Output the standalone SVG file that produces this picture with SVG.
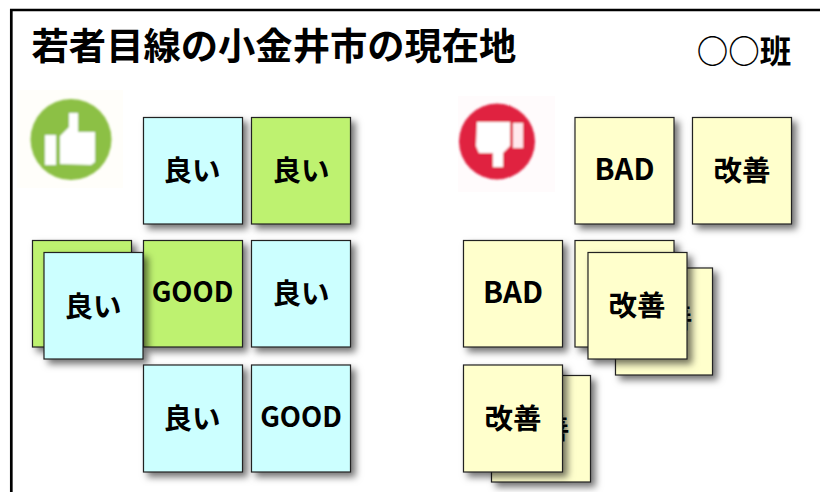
<svg xmlns="http://www.w3.org/2000/svg" width="820" height="492" viewBox="0 0 820 492">
<style>
text{font-family:"Noto Sans CJK JP","Noto Sans",sans-serif;font-weight:700;fill:#000;text-anchor:middle;dominant-baseline:central}
.t{font-size:28.500px}
.l{font-size:27.500px}
.m{font-size:29.500px}
.card{stroke:#222;stroke-width:1.2;filter:url(#sh)}
.b{fill:#ccffff}.g{fill:#bef270}.y{fill:#ffffcc}
</style>
<defs>
<filter id="sh" x="-20%" y="-20%" width="150%" height="150%"><feDropShadow dx="4.500" dy="4.500" stdDeviation="3.500" flood-color="#000" flood-opacity=".55"/></filter>
<filter id="bl" x="-10%" y="-10%" width="120%" height="120%"><feGaussianBlur stdDeviation="1"/></filter>
</defs>
<rect width="820" height="492" fill="#fff"/>
<path d="M11.300 492V10H820" fill="none" stroke="#000" stroke-width="2.700"/>
<text id="title" x="274" y="44" style="font-size:37.300px">若者目線の小金井市の現在地</text>
<text id="team" x="744" y="49" style="font-size:31.500px">○○班</text>
<g id="icon-good"><rect x="17" y="90" width="106" height="98" fill="#fffefa"/><g filter="url(#bl)"><circle cx="71" cy="139.500" r="40.500" fill="#8cc045"/><path d="M60 164V136L69 127V113H78V132H95V162L91 165Z" fill="#fff"/><rect x="45" y="135" width="11" height="30" fill="#fff"/></g></g>
<g id="icon-bad"><rect x="458" y="96" width="97" height="96" fill="#fffbfc"/><g filter="url(#bl)"><circle cx="497" cy="141.500" r="38" fill="#e0203f"/><path d="M477 122H510V146L503 153V167H493V153H479L476 146Z" fill="#fff"/><rect x="513" y="123" width="10" height="25" fill="#ffe8ec"/></g></g>
<g id="card-1"><rect class="card b" x="143.500" y="117.500" width="99" height="106.500"/><text class="t" x="192" y="168">良い</text></g>
<g id="card-2"><rect class="card g" x="251.500" y="117.500" width="99" height="106.500"/><text class="t" x="301" y="168">良い</text></g>
<g id="card-3"><rect class="card g" x="143.500" y="240.500" width="99" height="106.500"/><text class="l" x="192.500" y="290">GOOD</text></g>
<g id="card-4"><rect class="card b" x="251.500" y="240.500" width="99" height="106.500"/><text class="t" x="301" y="291">良い</text></g>
<g id="card-5"><rect class="card g" x="32.500" y="240.500" width="99" height="106.500"/></g>
<g id="card-6"><rect class="card b" x="44" y="252.500" width="99" height="106.500"/><text class="t" x="93" y="304">良い</text></g>
<g id="card-7"><rect class="card b" x="143.500" y="365" width="99" height="107"/><text class="t" x="192" y="416">良い</text></g>
<g id="card-8"><rect class="card b" x="251.500" y="365" width="99" height="107"/><text class="l" x="301" y="415">GOOD</text></g>
<g id="card-9"><rect class="card y" x="575" y="117.500" width="99" height="106.500"/><text class="m" x="624.500" y="167">BAD</text></g>
<g id="card-10"><rect class="card y" x="692.500" y="117.500" width="99" height="106.500"/><text class="t" x="742" y="168">改善</text></g>
<g id="card-11"><rect class="card y" x="463.500" y="240.500" width="99" height="106.500"/><text class="m" x="513" y="290">BAD</text></g>
<g id="card-12"><rect class="card y" x="615.500" y="268" width="97" height="107"/><text class="t" x="664" y="315">改善</text></g>
<g id="card-13"><rect class="card y" x="575" y="240.500" width="99" height="106.500"/></g>
<g id="card-14"><rect class="card y" x="588" y="252.500" width="99" height="106.500"/><text class="t" x="637" y="303">改善</text></g>
<g id="card-15"><rect class="card y" x="491.500" y="375.500" width="99" height="106.500"/><text class="t" x="541" y="426">改善</text></g>
<g id="card-16"><rect class="card y" x="463.500" y="365" width="99" height="107"/><text class="t" x="513" y="416">改善</text></g>
</svg>
